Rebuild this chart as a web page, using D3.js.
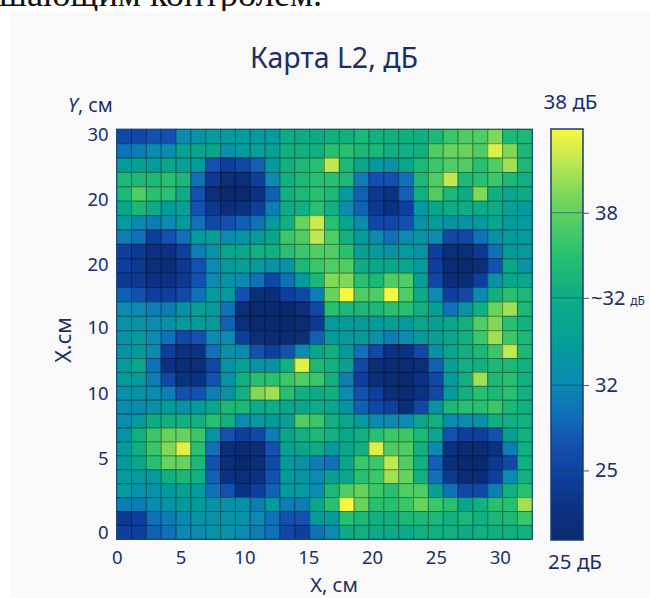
<!DOCTYPE html>
<html>
<head>
<meta charset="utf-8">
<script src="https://cdn.jsdelivr.net/npm/d3@7/dist/d3.min.js"></script>
<style>
html, body { margin: 0; padding: 0; background: #fff; overflow: hidden; }
svg { display: block; }
text { font-family: "Noto Sans", sans-serif; fill: #1b2f66; }
</style>
</head>
<body>
<div id="chart"></div>
<script>
// значения карты L2, дБ (строки сверху вниз, столбцы слева направо)
var l2Rows = [
[27.5,27.5,28,28,30,30.5,31,31,31,31,31,32.5,32.5,32.5,33,33,33.5,33,33,33,33,33.5,34.5,35,35,36,33.5,33.5],
[29,29.5,30,30,31.5,32,32,30.5,31,31.5,31.5,33,33,33,34,34,33.5,33.5,33,33,33,35,35.5,35.5,35,37.5,36,33.5],
[31,31.5,31,32,31.5,31,28,27,27.5,28.5,31,33,33.5,34,37,33.5,32,31,30.5,32,33.5,34.5,35,35,34,35,36.5,33.5],
[33.5,33.5,33.5,34,33.5,29,26.5,25.5,25.5,27,30,33,33.5,34,34,33.5,29.5,28,28,29,33.5,35,37,33.5,34,34.5,33.5,33],
[33.5,35,34,34,32.5,28,25.5,25,25,26,28.5,33,33.5,34,33.5,31,28.5,26.5,26,28.5,33,35,33.5,32.5,36,33,32,32.5],
[32,33.5,32.5,31,31.5,28,26.5,25.5,26,27,29.5,32.5,33,34,33,30,28.5,26.5,26,27,31,32,32.5,32.5,32.5,32.5,31.5,31],
[31,30,29.5,30,31,29,27.5,28,28.5,29,31,33,35.5,37.2,34,32,30,27.5,27.5,28,30.5,31,30.5,30.5,31,32,31,31],
[29.5,29,27,28,29,31,31.5,30,30.5,31,32,34.5,35,37,35,33,31,30,29,30,30.5,30,27.5,27.5,29,30.5,31,31],
[27,26.5,26,26,27,29.5,30.5,32,32,33,33,34,34.5,35,35,34,31.5,31,30.5,31,30.5,27,25.5,25.5,26.5,29,31,31],
[27,26.5,25.5,25.5,26.5,28,30,31,31.5,31,30.5,30.5,33.5,34.5,35,35,32.5,32,32,32,31,27,25.2,25,25.5,28,32,30.5],
[26.5,26.5,26,26,26.5,28,30,30.5,30,29,27.5,29,31,33.5,36,36,34,33.5,35,35,31.5,27.5,25.5,25.2,27,30.5,32,32],
[28.5,28,27,27,27.5,29,31,31,28,25.5,25.5,27,27.5,29.5,35.5,38,35,35,38,35,32.5,30,27,27.5,30,33,34,33.5],
[30,30,29.5,29.5,30.5,31.5,31,29,25.5,25,25,25,25.5,27.5,34,33.5,33.5,33.5,34,34,33,31.5,29,30.5,33,35.5,36.5,33.5],
[30.5,30.5,30,30.5,31,31,31,28.5,25.5,25,25,25,25.2,26.5,31,31,31,31,31.5,31,32,31.5,32,33,35,36,34,33],
[30.5,31,30,29,27.5,28,30,30,27,25.5,25.2,25.2,25.5,28.5,31,31,31,30.5,29.5,30,31,31.5,32,33,34.5,36.5,34.5,33.5],
[30.5,31,30,27,26,26,29,30.5,30,28,27,28,30,32,33,31,29,27.5,26,26,27.5,30.5,32,33,33.5,34.5,37,33.5],
[31,32,29,26,25.5,25.5,27.5,30.5,31.5,30.5,30.5,33,37.5,33.5,33,31.5,27.5,25.5,25.2,25.2,25.5,28.5,31.5,33,33,33.5,33.5,33],
[31,31,29.5,27.5,26,26,28,30.5,33,34,34,34.5,35,34.5,33,29.5,27,25.5,25.2,25,26,27.5,31,33,36.5,33.5,34,33],
[30.5,30.5,30,29.5,28,28,29.5,30.5,33,36,36.5,34,33,32.5,33,30,28,27,25.5,25.2,26,27.5,31,33,34,33.5,34,33],
[30,30,30.5,31,30.5,31,32,33.5,33.5,32.5,32.5,32,32,32.5,32,30.5,28.5,27.5,27,25.5,27.5,30.5,33.5,34,34,34.5,33.5,33],
[30,31,32.5,33,33,33,34,33,30,31,31,31.5,35,34.5,33,32,31,30,30,30,32,33,30,30,30.5,33,33,33],
[30.5,33,34.5,35.5,35.5,34.5,30.5,28,27,27.5,29.5,32,33,33.5,33,32,33,34,34.5,34.5,33.5,32,28,27,27,28,31.5,33],
[31,33,34.5,36,37.5,34,29,25.5,25.2,25.5,28,31.5,32,32.5,31,32,33,37.5,35,35,33,30,26,25.2,25.2,26,29.5,33],
[31,32,34,35.5,35.5,33.5,28,25.5,25,25.5,27.5,31,30.5,29.5,29,32,34.5,34.5,37,35,33,28.5,25.5,25,25,26.5,27.5,33],
[31,31,31,33,33.5,33,28.5,26,25.5,26,28,31,30.5,30,31.5,32,34,34.5,36.5,35.5,33,29,26.5,25.2,25.2,27,30,33],
[31,30.5,30.5,31,31.5,31,29,28,26,27,28.5,31,31,30,33.5,35,35.5,34.5,34,35,35,31.5,29,27.5,27.5,29.5,33,34],
[29.5,29.5,30,30.5,31,31,30.5,30.5,30.5,29.5,31,29.5,29.5,32,34,38,35.5,34,34,34.5,35.5,34.5,34,32,33,34,34,36.5],
[26.5,27,29,29.5,30,30.5,30.5,30.5,30.5,30,29,28,28,31,31,34,33.5,33,33,33.5,33.5,33.5,33,33.5,33,33.5,33.5,34.5],
[27,27,28.5,29,30,30,30.5,30.5,30,29.5,29,27.5,27,29,30,32.5,33,32.5,32.5,32.5,33,33,33,32.5,33,33,33,33]
];

// подписи осей
var xTickValues = [0, 5, 10, 15, 20, 25, 30];
var yTickValues = [0, 5.6, 10.55, 15.45, 20.27, 25.17, 30];
var yTickLabels = ['0', '5', '10', '10', '20', '20', '30'];

// шкала цвета
var colorStops = ['#0a2a70', '#0b3282', '#0e3f9e', '#1450b0', '#1070b8', '#0c8ab0', '#059a9c',
                  '#0aa68c', '#12b080', '#28c070', '#50cc64', '#80d858', '#c0e850', '#f8f840'];
var colorDomain = [25, 26, 27, 28, 29, 30, 31, 32, 33, 34, 35, 36, 37, 38];
var barTickValues = [27.2, 29.9, 32.66, 35.35];
var barTickLabels = ['25', '32', '~32', '38'];

var svgW = 650,
    svgH = 598,
    plot = {x: 116.7, y: 129.3, w: 415.6, h: 410},
    bar = {x: 551, y: 129, w: 32, h: 411};

var svg = d3.select('#chart').append('svg')
    .attr('width', svgW)
    .attr('height', svgH);

// обрезанная строка текста над картинкой и подложка
svg.append('text')
    .attr('x', -1)
    .attr('y', 6)
    .style('font-family', '"Liberation Serif", serif')
    .style('font-size', '36.4px')
    .style('fill', '#111')
    .text('шающим контролем.');

svg.append('rect')
    .attr('x', 10)
    .attr('y', 11)
    .attr('width', svgW - 10)
    .attr('height', svgH - 11)
    .attr('fill', '#f9f9f9');

var color = d3.scaleLinear().domain(colorDomain).range(colorStops).clamp(true);

var xBand = d3.scaleBand().domain(d3.range(l2Rows[0].length)).range([plot.x, plot.x + plot.w]);
// верхняя половина строк на картинке чуть выше нижней
var yRow = d3.scaleLinear().domain([0, 14, l2Rows.length]).range([plot.y, 330.7, plot.y + plot.h]);

// ячейки
l2Rows.forEach(function (row, r) {
    svg.append('g').selectAll('rect').data(row).enter().append('rect')
        .attr('x', function (d, c) { return xBand(c); })
        .attr('y', yRow(r))
        .attr('width', xBand.bandwidth())
        .attr('height', yRow(r + 1) - yRow(r))
        .attr('fill', function (d) { return color(d); })
        .attr('stroke', function (d) { return d3.rgb(color(d)).darker(1.3); })
        .attr('stroke-width', 1);
});

svg.append('rect')
    .attr('x', plot.x)
    .attr('y', plot.y)
    .attr('width', plot.w)
    .attr('height', plot.h)
    .attr('fill', 'none')
    .attr('stroke', '#1b4a78')
    .attr('stroke-width', 1);

// оси
var xScale = d3.scaleLinear().domain([0, 32.55]).range([plot.x, plot.x + plot.w]);
var yScale = d3.scaleLinear().domain([-0.47, 30.43]).range([plot.y + plot.h, plot.y]);

var xAxis = svg.append('g')
    .attr('transform', 'translate(0,' + (plot.y + plot.h) + ')')
    .call(d3.axisBottom(xScale).tickValues(xTickValues).tickSize(0).tickPadding(12));
var yAxis = svg.append('g')
    .attr('transform', 'translate(' + plot.x + ',0)')
    .call(d3.axisLeft(yScale).tickValues(yTickValues).tickSize(0).tickPadding(8)
        .tickFormat(function (d, i) { return yTickLabels[i]; }));
[xAxis, yAxis].forEach(function (axis) {
    axis.select('.domain').remove();
    axis.selectAll('text').style('font-size', '18.5px').style('font-family', '"Noto Sans", sans-serif');
});

svg.append('text')
    .attr('x', 334)
    .attr('y', 68)
    .attr('text-anchor', 'middle')
    .style('font-size', '28.5px')
    .text('Карта L2, дБ');

var yTitle = svg.append('text')
    .attr('x', 68)
    .attr('y', 112)
    .style('font-size', '19.5px');
yTitle.append('tspan').style('font-style', 'italic').text('Y');
yTitle.append('tspan').text(', см');

svg.append('text')
    .attr('transform', 'translate(71,340) rotate(-90)')
    .attr('text-anchor', 'middle')
    .style('font-size', '21.5px')
    .text('X.см');

svg.append('text')
    .attr('x', 334)
    .attr('y', 592)
    .attr('text-anchor', 'middle')
    .style('font-size', '20px')
    .text('X, см');

// цветовая шкала
var grad = svg.append('defs').append('linearGradient')
    .attr('id', 'barGrad')
    .attr('x1', 0).attr('y1', 1).attr('x2', 0).attr('y2', 0);
grad.selectAll('stop').data(colorDomain).enter().append('stop')
    .attr('offset', function (d) { return (d - 25) / 13; })
    .attr('stop-color', function (d) { return color(d); });

var barScale = d3.scaleLinear().domain([25, 38]).range([bar.y + bar.h, bar.y]);

svg.append('rect')
    .attr('x', bar.x)
    .attr('y', bar.y)
    .attr('width', bar.w)
    .attr('height', bar.h)
    .attr('fill', 'url(#barGrad)')
    .attr('stroke', '#1f3b70')
    .attr('stroke-width', 1.5);

svg.append('g').selectAll('line').data(barTickValues).enter().append('line')
    .attr('x1', bar.x)
    .attr('x2', bar.x + bar.w)
    .attr('y1', function (d) { return barScale(d); })
    .attr('y2', function (d) { return barScale(d); })
    .attr('stroke', '#16406e')
    .attr('stroke-opacity', 0.6)
    .attr('stroke-width', 1);

var barAxis = svg.append('g')
    .attr('transform', 'translate(' + (bar.x + bar.w) + ',0)')
    .call(d3.axisRight(barScale).tickValues(barTickValues).tickSize(6).tickPadding(6)
        .tickFormat(function (d, i) { return barTickLabels[i]; }));
barAxis.select('.domain').remove();
barAxis.selectAll('line').attr('stroke', '#3a5a86');
barAxis.selectAll('text').style('font-size', '20px').style('font-family', '"Noto Sans", sans-serif');

// мелкое "дБ" рядом с ~32
barAxis.selectAll('text').filter(function (d, i) { return i === 2; })
    .attr('x', 8)
    .append('tspan')
    .attr('dx', 5)
    .style('font-size', '12px')
    .text('дБ');

svg.append('text')
    .attr('x', 570.5)
    .attr('y', 109)
    .attr('text-anchor', 'middle')
    .style('font-size', '20.5px')
    .text('38 дБ');

svg.append('text')
    .attr('x', 575)
    .attr('y', 569)
    .attr('text-anchor', 'middle')
    .style('font-size', '20.5px')
    .text('25 дБ');
</script>
</body>
</html>
